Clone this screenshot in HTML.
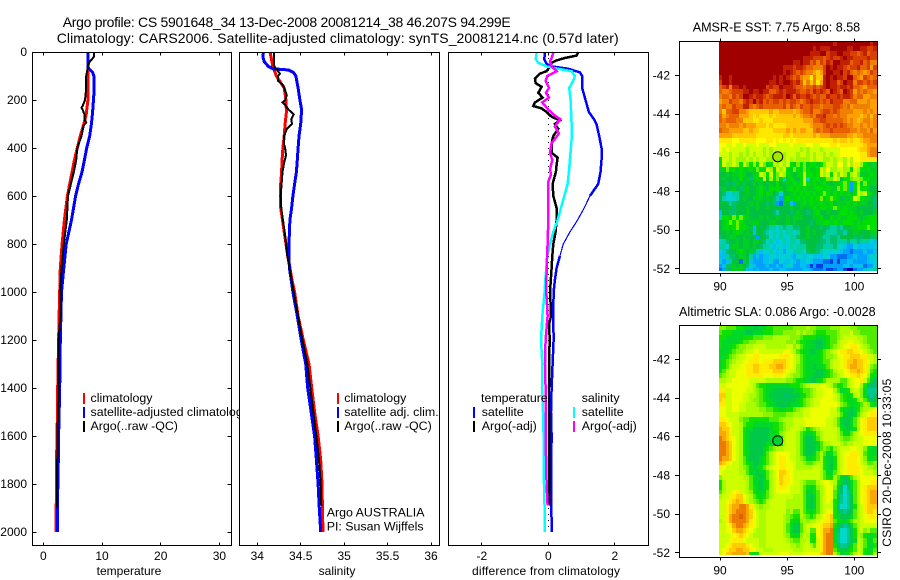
<!DOCTYPE html>
<html>
<head>
<meta charset="utf-8">
<title>Argo profile chart</title>
<style>
html,body{margin:0;padding:0;background:#fff;}
svg{display:block;}
text{font-family:"Liberation Sans",sans-serif;font-size:12px;fill:#000;}
.leg{font-size:12.4px;}
.ttl{font-size:14px;}
.mt{font-size:12.6px;}
.frame{fill:none;stroke:#000;stroke-width:1;shape-rendering:crispEdges;}
.bg{fill:#fff;stroke:none;}
.key{stroke:none;shape-rendering:crispEdges;}
</style>
</head>
<body>
<svg id="chart" xmlns="http://www.w3.org/2000/svg" width="900" height="580" viewBox="0 0 900 580">
  <rect class="bg" x="0" y="0" width="900" height="580"/>
  <text class="ttl" x="62.7" y="27" textLength="448" lengthAdjust="spacing">Argo profile: CS 5901648_34 13-Dec-2008 20081214_38 46.207S 94.299E</text>
  <text class="ttl" x="56.7" y="43" textLength="562" lengthAdjust="spacing">Climatology: CARS2006. Satellite-adjusted climatology: synTS_20081214.nc (0.57d later)</text>

  <g id="panel-temp">
    <rect class="bg" x="32.5" y="52.5" width="199" height="493"/>
    <g id="temp-marks"></g>
    <rect class="key" x="83" y="393" width="2" height="11" fill="#ff0000"/>
    <text class="leg" x="90.5" y="402">climatology</text>
    <rect class="key" x="83" y="407" width="2" height="11" fill="#0000ff"/>
    <text class="leg" x="90.5" y="416">satellite-adjusted climatology</text>
    <rect class="key" x="83" y="421" width="2" height="11" fill="#000000"/>
    <text class="leg" x="90.5" y="430">Argo(..raw -QC)</text>
    <text x="129" y="575" text-anchor="middle">temperature</text>
  </g>

  <g id="panel-sal">
    <rect class="bg" x="239.5" y="52.5" width="200" height="493"/>
    <g id="sal-marks"></g>
    <rect class="key" x="337" y="393" width="2" height="11" fill="#ff0000"/>
    <text class="leg" x="344.3" y="402">climatology</text>
    <rect class="key" x="337" y="407" width="2" height="11" fill="#0000ff"/>
    <text class="leg" x="344.3" y="416">satellite adj. clim.</text>
    <rect class="key" x="337" y="421" width="2" height="11" fill="#000000"/>
    <text class="leg" x="344.3" y="430">Argo(..raw -QC)</text>
    <text class="leg" x="326.7" y="516.7">Argo AUSTRALIA</text>
    <text class="leg" x="326.7" y="530.7">PI: Susan Wijffels</text>
    <text x="337" y="575" text-anchor="middle">salinity</text>
  </g>

  <g id="panel-diff">
    <rect class="bg" x="448.5" y="52.5" width="200" height="493"/>
    <g id="diff-marks"></g>
    <text class="leg" x="481" y="402">temperature</text>
    <rect class="key" x="473" y="407" width="2" height="11" fill="#0000ff"/>
    <text class="leg" x="481.7" y="416">satellite</text>
    <rect class="key" x="473" y="421" width="2" height="11" fill="#000000"/>
    <text class="leg" x="481.7" y="430">Argo(-adj)</text>
    <text class="leg" x="581.7" y="402">salinity</text>
    <rect class="key" x="573" y="407" width="2" height="11" fill="#00ffff"/>
    <text class="leg" x="581.7" y="416">satellite</text>
    <rect class="key" x="573" y="421" width="2" height="11" fill="#ff00ff"/>
    <text class="leg" x="581.7" y="430">Argo(-adj)</text>
    <text x="546" y="575" text-anchor="middle" textLength="148" lengthAdjust="spacing">difference from climatology</text>
  </g>

  <g id="panel-sst">
    <text class="mt" x="692.7" y="31.5" textLength="167.5" lengthAdjust="spacing">AMSR-E SST: 7.75 Argo: 8.58</text>
    <g id="sst-cells"></g>
    <rect class="frame" x="679.5" y="41.5" width="198" height="232"/>
    <g id="sst-axes"></g>
  </g>

  <g id="panel-sla">
    <text class="mt" x="679" y="316" textLength="196.7" lengthAdjust="spacing">Altimetric SLA: 0.086 Argo: -0.0028</text>
    <g id="sla-cells"></g>
    <rect class="frame" x="679.5" y="325.5" width="198" height="232"/>
    <g id="sla-axes"></g>
  </g>

  <text transform="translate(891 546.7) rotate(-90)" x="0" y="0" textLength="168" lengthAdjust="spacing">CSIRO 20-Dec-2008 10:33:05</text>
</svg>

<script>
/* ---------- tick labels ---------- */
const depthTicks = [0,200,400,600,800,1000,1200,1400,1600,1800,2000];
const tempTicks = [0,10,20,30];
const salTicks = [34,34.5,35,35.5,36];
const diffTicks = [-2,0,2];
const lonTicks = [90,95,100];
const latTicks = [-42,-44,-46,-48,-50,-52];

/* ---------- temperature profiles ---------- */
const tempClimDepth = [0,100,200,260,300,350,400,450,500,550,600,700,800,900,1000,1100,1200,1400,1600,1700,1800,1900,2000];
const tempClimValue = [7.6,7.6,7.6,7.3,6.9,6.3,5.8,5.3,4.9,4.5,4.1,3.6,3.2,2.9,2.8,2.7,2.6,2.45,2.35,2.25,2.25,2.2,2.2];
const tempSatDepth = [0,60,70,85,100,180,250,300,350,400,450,500,550,600,700,800,900,1000,1100,1200,1400,1600,1800,1850,2000];
const tempSatValue = [7.6,7.6,7.8,8.4,8.6,8.6,8.4,8.2,7.9,7.4,7.0,6.6,6.0,5.5,4.8,3.9,3.5,3.1,3.0,2.9,2.8,2.6,2.5,2.4,2.4];
const tempArgoDepth = [0,20,30,40,60,100,150,200,225,232,240,260,280,295,305,350,400,450,500,550,600,700,800,900,1000,1100,1200,1400,1500,1600,1800,1900];
const tempArgoValue = [8.7,8.6,8.3,7.9,7.6,7.3,7.3,7.1,6.7,6.5,6.7,7.0,7.0,7.3,6.9,6.5,5.8,5.6,5.2,4.7,4.2,4.0,3.5,3.1,2.9,2.9,2.6,2.6,2.5,2.4,2.35,2.3];

/* ---------- salinity profiles ---------- */
const salClimDepth = [0,60,100,150,200,250,300,350,400,450,500,550,600,650,700,750,800,850,900,950,1000,1100,1200,1300,1400,1500,1600,1700,1800,1900,2000];
const salClimValue = [34.146,34.18,34.22,34.31,34.33,34.335,34.32,34.31,34.295,34.285,34.28,34.27,34.27,34.27,34.29,34.31,34.33,34.35,34.376,34.40,34.43,34.47,34.53,34.595,34.626,34.66,34.70,34.73,34.745,34.75,34.756];
const salSatDepth = [0,20,40,60,70,72,75,85,100,150,200,240,300,350,400,450,500,550,600,650,700,750,800,850,900,950,1000,1100,1200,1300,1400,1500,1600,1700,1800,1900,2000];
const salSatValue = [34.07,34.065,34.08,34.127,34.18,34.26,34.36,34.415,34.445,34.47,34.49,34.51,34.50,34.48,34.47,34.46,34.45,34.43,34.41,34.395,34.375,34.37,34.365,34.365,34.37,34.39,34.41,34.46,34.507,34.557,34.58,34.62,34.66,34.68,34.70,34.714,34.73];
const salArgoDepth = [0,30,60,90,100,120,140,160,180,200,210,220,240,260,280,300,320,350,380,400,430,460,500,550,600,650,700,750,800,850,900,950,1000,1100,1200,1300,1400,1500,1600,1700,1800,1890];
const salArgoValue = [34.19,34.19,34.196,34.26,34.24,34.24,34.30,34.32,34.34,34.32,34.29,34.32,34.36,34.42,34.39,34.40,34.34,34.31,34.305,34.32,34.33,34.31,34.29,34.28,34.27,34.276,34.295,34.315,34.33,34.345,34.37,34.395,34.42,34.47,34.52,34.576,34.61,34.645,34.68,34.71,34.73,34.737];

/* ---------- differences from climatology ---------- */
const diffTempSatDepth = [0,30,50,60,70,85,100,150,200,250,280,300,350,400,450,500,550,600,650,700,750,800,850,900,950,1000,1100,1200,1300,1400,1500,1600,1700,1800,2000];
const diffTempSatValue = [-0.1,-0.12,-0.05,0.1,0.6,0.95,1.02,1.02,1.12,1.22,1.37,1.45,1.53,1.6,1.6,1.57,1.5,1.25,1.08,0.88,0.65,0.45,0.35,0.25,0.2,0.16,0.15,0.16,0.13,0.1,0.08,0.1,0.09,0.09,0.1];
const diffSalSatDepth = [0,30,45,60,70,80,100,120,150,200,300,350,400,450,500,550,600,650,700,750,800,850,900,950,1000,1100,1200,1300,1400,1500,1600,1700,1800,1900,2000];
const diffSalSatValue = [-0.35,-0.38,-0.3,-0.05,0.3,0.7,0.8,0.75,0.63,0.67,0.7,0.71,0.68,0.65,0.62,0.58,0.48,0.38,0.28,0.15,0.05,-0.03,-0.06,-0.09,-0.11,-0.18,-0.22,-0.18,-0.19,-0.16,-0.14,-0.14,-0.13,-0.11,-0.11];
const diffTempArgoDepth = [0,15,25,35,45,60,70,80,90,110,130,145,170,190,210,225,235,250,270,285,300,320,350,380,420,440,470,500,550,600,650,700,750,800,850,900,1000,1050,1100,1130,1200,1400,1500,1600,1890];
const diffTempArgoValue = [0.9,0.85,0.5,0.25,0.1,0.08,0,-0.05,-0.25,-0.4,-0.38,-0.2,-0.3,-0.17,-0.4,-0.45,-0.2,-0.05,0.1,0.35,0.2,0.3,0.15,0.1,0.1,0.28,0.25,0.23,0.13,0.15,0.25,0.25,0.22,0.15,0.12,0.1,0.05,0.07,0.08,0.03,0.04,0.02,0.02,0.02,0.02];
const diffSalArgoDepth = [0,25,40,60,80,100,120,150,170,190,210,240,260,280,310,340,380,420,450,490,510,540,600,700,800,900,1000,1100,1200,1300,1400,1500,1600,1800,1890];
const diffSalArgoValue = [0.16,0.1,0.05,0.1,0.25,-0.03,-0.08,0.02,-0.07,0.02,-0.18,0,0.15,0.36,0.2,0.32,0.1,0.05,0.12,0.05,0.08,0,0,0,-0.02,-0.05,-0.06,-0.02,-0.08,-0.1,-0.08,-0.07,-0.08,-0.05,-0.02];
const zeroLineDepth = [0,2000];
const zeroLineValue = [0,0];

/* ---------- map grids: one character per 0.25 degree cell, index into the colour scale ---------- */
const sstColors = ['#a00000','#c02000','#d84000','#e86000','#f08000','#ffa000','#ffc800','#ffe800','#ffff00','#d0ff00','#a0f800','#70f000','#00e000','#00d020','#00c040','#00c070','#00d0a0','#00d0d0','#00c0f0','#00a0ff','#0070f0','#0040e0','#0000b0'];
const slaColors = ['#c04000','#d05000','#e06000','#ec7c00','#f8a800','#ffcc00','#ffec00','#eeff00','#ccff00','#acfc00','#88f400','#50ec00','#10e000','#00d828','#00c848','#00c070','#00c890','#00d8c8','#00c0f0','#00a0ff','#0070f0','#0040e0','#0000b0'];
const sstRows = [
"00000000000000000000000000000000001000000000010",
"00000000000000000000000000001011100000110011221",
"00000000000000000000000000011100211001122321322",
"00000000000000000000000001112223212210112222122",
"00000000000000000000001101132423120011132213244",
"00000000000000000001112112334442010112322133252",
"00000000000000000001012323445652001102134345423",
"10010000000000001010123245574661010112003452343",
"20010000000000011010012136464751011320114223232",
"32141101000000212201112334332321011211213345333",
"34432221101101133212111233231212301230125343445",
"43342320012112321112013122123233122121124335544",
"54423342120213232232322343212232312224433555455",
"43442331134323333332423423323343332234354444455",
"46332244566666656655556543324432232344445554545",
"35433355567677767666665654434221334344555565464",
"34333446667767776666666665553322333334545654454",
"44544454555666767777666666654443232323445545454",
"34455556656677776666565655664343323333344544535",
"55556666666777777776676666665655544444556554444",
"77778877777888778787878777777777776766767765544",
"88998998999899988999989999889988877877777776555",
"89899999a9999a9a99999999a9a999a9999988888766544",
"999a99a9a9a99a9a999a999a99a9a99a9a9988888877544",
"c99a9aaa9a9a99aaa9aa9a9aaaa9a99aa9a99a8a8877777",
"c9aa9ac9bcac9bdc9a9a9cdbcbdccdcb99a88a8a79acddd",
"ddbccdcddcdbcc9ad9a9cdbcdbcddc9a8aa99aac9acdcdd",
"eededdcdeedc9ac9cb9acdedc9ccdc9a9c9b9aca9bdddcd",
"edeedecedfdcd9dacbdhdcdec9hdccdcbb9aeccbaabccdd",
"eefefdedeededeedeceeddcdc9cdcddcdeddcbcjcadbddd",
"fdeedefddeedcdecdcdedcdcdcdddccdcddbcbcjc9ccdee",
"efhhggeedeedcecdefheedcdcdcdcdcbcdcdcdcec9a9cde",
"eghhhgedeedddedefgjdcddcdcdcdcbdcbcdedec9acddef",
"eeegfeeeededeefefjkdeijedcdcddcddcedddcdcdddeef",
"eeeefeeedeedeedeeeeeedeedeedcdccdcbcdcdddeeeeef",
"ieeffeeedeeeeeeefgeeefedeefedceedeedccdcdedeeed",
"hccdbcbcdeeededeedeededddeeeddceecdcddcccdedccc",
"edcbcbcdedddeeeddeeededeeeefeddccdcddcccdcdcccc",
"edcdcbccdeieeefgghgfggefeedeeefefggfgeeddcccbcc",
"eededcdedeieefghghghgghgeededeefgggffgeeddeeedd",
"feeddeedeeejeefhghghhggfeedeeefggffgeeeefefeeff",
"hgfeededdeddefhghihghgghffeeeeffgffgggfggfggghi",
"ggheddeddedefgghihhihghgggeeeffgggfhhijjhiiiiih",
"hifeedcdedfgihhghihjhhggghfeefghhhhhijjkjjjijji",
"iigffeddegjijiihhihhhijhhihhiiihhjjkkkjjijjjihh",
"hjigeekdeijjjiihjjhiihijiihijjjkkljljjiijjjjiih",
"jiffdedefhijjjijjijihhjjiijljlljjjjjjiijiiikjjh",
"kjfedddeiijijjjijjiijjjjjiijkkkjllkjjlmmkjjihhg"
];
const slaRows = [
"aabbbccdddeeddccbbbbbbaaaa9aabbbbaaa999aabbbbbb",
"bcccddddeedddcccbbbaaaa9a9aabcccbbba9998aabbbbb",
"ccdddddcccbbbaaa99999aaabccccdddcbba9888899abbb",
"cdddddcbbaa999999999aa9bccddeeedcbb98877889abbb",
"cdddcbaa99888899999988a9bcdddeedcba987766789abb",
"dddcbaa9887788888887789bcddeedcba987665566789ab",
"ddcba9887766777777666789bcddddcbaa9776655566889",
"dcba98877666766655556789bcddddcbb98876554556789",
"dcb98877665566655445678abcddeddcb988765445568ab",
"cb988777665566665556788abcdddeedcb98876554568bc",
"ba98877766666777666789aabcddeeedcba9877665679cd",
"99887777788888999999aabccddeedcb9999bb987768bdf",
"88777777789bccdddddddcccba98887789bccb98779cfff",
"66887777889abcddeeeeeeddcbba9887779bddc988adggg",
"55887778899abcdeeeeffeeedcba98877789bcdc98adfgf",
"5688777889aabcddeeeeeeedcba988777789bcddca9bdfe",
"66887788999abbcddeeeedddcba988777778abcddcb9acd",
"778877889999aabbccddccba98877777788acddedca9887",
"7788889999999aaabbbbaa99988777777889bdeedb98766",
"667888abbccccccbbba9998887777777889bdeedb976555",
"556788 9bccddddddcc ba9988 8877777788 9bdeedb 976555",
"455688 9cddeeeeedcc ba9888 9acba98888 89cdedc 976555",
"445688 9cdeeeeeeddc a98889 bcddca9888 89bddb9 876666",
"345678 9cdeeeeeedcd c98889 bdeedb9888 89abba9 887777",
"334578 9cdeeeeeddcc d98889 bdeeedb998 889a998 887777",
"334578 9cdeeeedcba9 988889 bdeeedbabc a988877 88acdd",
"334578 9cdeeeedb987 777889 bdeedb9bdd b987766 68bcdd",
"344578 9bdeeedcb987 667889 abddcb9cde c987666 78acdc",
"456788 9bcdeedcb987 667789 9abba99cde c987666 789bba",
"678888 9abdedcb9877 667789 9999889cde c987666 67899a",
"788888 99bddeddb987 556788 8888889bdd b987666 678889",
"a88888 899bddedb987 566788 8888889bcc 9bdedb9 877777",
"c98888 889bddedc987 566788 9abbb98778 9cdfedb 977766",
"c98888 889bcdedc987 667888 9bcdca9877 adfhfdb 976555",
"b98876 889acdddb987 777888 9bddcb9877 bdfhgdb 976544",
"988665 5789bcdcb988 888899 9bdedb9877 beghgeb 976544",
"887654 5689abcb9888 889999 9bdedb9878 ceghgeb 976544",
"886544 334689a99888 889999 9bdedb9888 cfhhgec 986555",
"886543 334578998888 88a9bb 9bcdcb9877 cefgfeb 986556",
"886433 234578998888 89abcc 9abcb98765 cdeeedb 987666",
"986433 334678998888 89acdd a9a9987665 bcddcb9 987777",
"887643 345678998888 89bdee b988776554 cefgfdb 988888",
"887754 456789998888 89bdee b98bb76443 dfhhgec 98a9bb",
"888776 567899998888 89acdd a89cc76433 dghhgec 9acddc",
"888766 678888998888 889abb 998cc86433 dghhged 89bddb",
"887655 556788998888 88899a 9889b86433 cfggfdb 89bddc",
"876554 455678899988 888899 9888886433 bdeedcb 89cddb",
"875544 445cdc888888 777888 8777775433 9bddcb9 79cdc9"
];
const floatLon = 94.299;
const floatLat = -46.207;

/* ---------- drawing ---------- */
const NS = 'http://www.w3.org/2000/svg';
function mk(tag, attrs, parent) {
  const el = document.createElementNS(NS, tag);
  for (const k in attrs) el.setAttribute(k, attrs[k]);
  parent.appendChild(el);
  return el;
}
const $ = id => document.getElementById(id);
const depthY = d => 52 + 0.24 * d;
const tempX = v => 43.3 + 5.87 * v;
const salX = v => 257.3 + 86.85 * (v - 34);
const diffX = v => 548.3 + 33.25 * v;
const px = v => Math.floor(v) + 0.5;

function drawLine(group, xf, depths, values, color, width, name, dash, minD, maxD) {
  const lo = minD === undefined ? -Infinity : minD;
  const hi = maxD === undefined ? Infinity : maxD;
  const parts = [];
  depths.forEach((d, i) => {
    if (d >= lo && d <= hi) parts.push(xf(values[i]).toFixed(1) + ',' + depthY(d).toFixed(1));
  });
  const attrs = {points: parts.join(' '), fill: 'none', stroke: color, 'stroke-width': width, 'shape-rendering': 'crispEdges', 'stroke-linejoin': 'miter'};
  if (dash) attrs['stroke-dasharray'] = dash;
  const el = mk('polyline', attrs, group);
  
  
}

function tickLine(parent, x1, y1, x2, y2, name) {
  const el = mk('line', {x1, y1, x2, y2, stroke: '#000', 'stroke-width': 1, 'shape-rendering': 'crispEdges'}, parent);
  
  
}
function tickText(parent, x, y, anchor, str, name) {
  const el = mk('text', {x, y, 'text-anchor': anchor}, parent);
  el.textContent = str;
  
  
}

function profileAxes(panelId, left, right, xf, ticks, withDepth, prefix) {
  const g = $(panelId);
  const frame = mk('rect', {class: 'frame', x: left, y: 52.5, width: right - left, height: 493}, g);
  
  
  ticks.forEach(v => {
    const x = px(xf(v));
    tickLine(g, x, 52.5, x, 55.5, prefix + '-top-tick');
    tickLine(g, x, 542.5, x, 545.5, prefix + '-bottom-tick');
    tickText(g, xf(v), 560, 'middle', String(v), prefix + '-tick-label');
  });
  if (withDepth) {
    depthTicks.forEach(d => {
      const y = px(depthY(d));
      tickLine(g, left, y, left + 4, y, 'depth-left-tick');
      tickLine(g, right - 4, y, right, y, 'depth-right-tick');
      tickText(g, 27, depthY(d) + 4, 'end', String(d), 'depth-tick-label');
    });
  }
}

/* temperature */
const tm = $('temp-marks');
drawLine(tm, tempX, tempClimDepth, tempClimValue, '#ff0000', 3, 'temperature-climatology-line');
drawLine(tm, tempX, tempSatDepth, tempSatValue, '#0000ff', 3, 'temperature-satellite-line');
drawLine(tm, tempX, tempArgoDepth, tempArgoValue, '#000000', 2, 'temperature-argo-line');
profileAxes('panel-temp', 32.5, 231.5, tempX, tempTicks, true, 'temperature-axis');

/* salinity */
const sm = $('sal-marks');
drawLine(sm, salX, salClimDepth, salClimValue, '#ff0000', 3, 'salinity-climatology-line');
drawLine(sm, salX, salSatDepth, salSatValue, '#0000ff', 3, 'salinity-satellite-line');
drawLine(sm, salX, salArgoDepth, salArgoValue, '#000000', 2, 'salinity-argo-line');
profileAxes('panel-sal', 239.5, 439.5, salX, salTicks, false, 'salinity-axis');

/* differences */
const dm = $('diff-marks');
drawLine(dm, diffX, zeroLineDepth, zeroLineValue, '#000000', 1, 'zero-difference-line', '1 5');
drawLine(dm, diffX, diffTempSatDepth, diffTempSatValue, '#0000ff', 2.5, 'difference-temperature-satellite-upper', null, 0, 600);
drawLine(dm, diffX, diffTempSatDepth, diffTempSatValue, '#0000ff', 1.2, 'difference-temperature-satellite-diagonal', null, 600, 850);
drawLine(dm, diffX, diffTempSatDepth, diffTempSatValue, '#0000ff', 2.5, 'difference-temperature-satellite-lower', null, 850, 2000);
drawLine(dm, diffX, diffTempArgoDepth, diffTempArgoValue, '#000000', 2.5, 'difference-temperature-argo-line');
drawLine(dm, diffX, diffSalSatDepth, diffSalSatValue, '#00ffff', 2.5, 'difference-salinity-satellite-line');
drawLine(dm, diffX, diffSalArgoDepth, diffSalArgoValue, '#ff00ff', 2.5, 'difference-salinity-argo-line');
profileAxes('panel-diff', 448.5, 648.5, diffX, diffTicks, false, 'difference-axis');

/* maps */
const mapLonX = lon => 720 + (lon - 90) * 13.43;
function drawMap(rows, palette, cellsId, axesId, lat42Y, top, markerFill, prefix) {
  const latY = lat => lat42Y + (-42 - lat) * 19.35;
  const cells = $(cellsId);
  const north = -40.23;
  const imgTop = Math.floor(top);
  const imgBottom = imgTop + 230;
  rows.forEach((raw, r) => {
    const row = raw.replace(/ /g, '');
    for (let c = 0; c < 47; c++) {
      const ch = row[Math.min(c, row.length - 1)];
      const lon = 90 + c * 0.25;
      const lat = north - r * 0.25;
      const x = Math.round(mapLonX(lon) - 1);
      const x2 = Math.min(Math.round(mapLonX(lon + 0.25) - 1), 877);
      const y = Math.max(Math.round(latY(lat)), imgTop);
      const y2 = Math.min(Math.round(latY(lat - 0.25)), imgBottom);
      if (y2 <= y) continue;
      const cell = mk('rect', {x, y, width: x2 - x, height: y2 - y, fill: palette[parseInt(ch, 36)], 'shape-rendering': 'crispEdges'}, cells);
      
      
    }
  });
  const ax = $(axesId);
  const bottom = top + 232;
  lonTicks.forEach(lon => {
    const x = px(mapLonX(lon));
    tickLine(ax, x, top - 3, x, top, prefix + '-top-tick');
    tickLine(ax, x, bottom, x, bottom + 3, prefix + '-bottom-tick');
    tickText(ax, mapLonX(lon), bottom + 17, 'middle', String(lon), prefix + '-longitude-label');
  });
  latTicks.forEach(lat => {
    const y = px(latY(lat));
    tickLine(ax, 675, y, 679.5, y, prefix + '-left-tick');
    tickLine(ax, 877.5, y, 881, y, prefix + '-right-tick');
    tickText(ax, 670, latY(lat) + 4, 'end', String(lat), prefix + '-latitude-label');
  });
  const mark = mk('circle', {cx: mapLonX(floatLon), cy: latY(floatLat), r: 5, fill: markerFill, stroke: '#000', 'stroke-width': 1}, ax);
  
  
}
drawMap(sstRows, sstColors, 'sst-cells', 'sst-axes', 75.3, 41.5, '#a0e800', 'sst-map');
drawMap(slaRows, slaColors, 'sla-cells', 'sla-axes', 359.3, 325.5, '#00d030', 'sla-map');
</script>
</body>
</html>
